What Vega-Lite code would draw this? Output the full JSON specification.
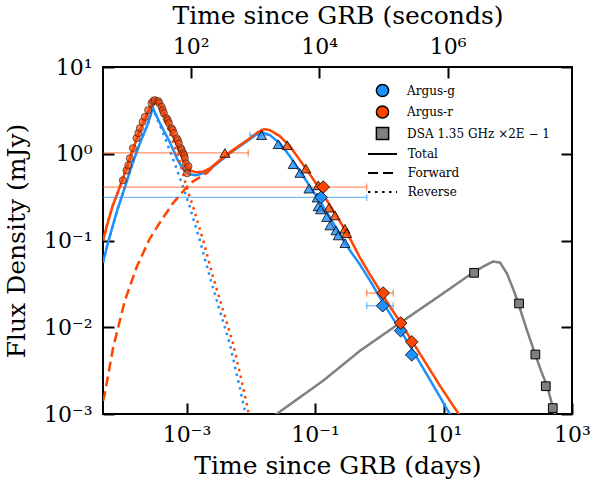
{
 "$schema": "https://vega.github.io/schema/vega-lite/v6.json",
 "autosize": {"type": "none"},
 "padding": {"left": 103, "top": 67, "right": 21, "bottom": 68},
 "width": 469,
 "height": 347,
 "config": {
  "view": {"stroke": "black", "strokeWidth": 2},
  "font": "DejaVu Serif",
  "axis": {"grid": false, "domain": false, "tickColor": "black", "tickWidth": 2, "tickSize": -11,
   "labelFont": "DejaVu Serif", "labelFontSize": 22, "labelColor": "black",
   "titleFont": "DejaVu Serif", "titleFontSize": 25, "titleFontWeight": "normal", "titleColor": "black",
   "labelFlush": false, "labelOverlap": false, "titlePadding": 9},
  "legend": {"labelFont": "DejaVu Serif", "labelFontSize": 12, "labelColor": "black", "padding": 0}
 },
 "datasets": {
  "model": [
   {"b":"g","c":"Total","t":5e-5,"f":0.0557},{"b":"g","c":"Total","t":5.94e-5,"f":0.0923},{"b":"g","c":"Total","t":7.11e-5,"f":0.149},{"b":"g","c":"Total","t":8.51e-5,"f":0.2344},{"b":"g","c":"Total","t":1.094e-4,"f":0.41},{"b":"g","c":"Total","t":1.406e-4,"f":0.736},{"b":"g","c":"Total","t":1.875e-4,"f":1.321},{"b":"g","c":"Total","t":2.49e-4,"f":2.193},{"b":"g","c":"Total","t":2.985e-4,"f":3.357},{"b":"g","c":"Total","t":3.84e-4,"f":2.254},{"b":"g","c":"Total","t":5.5e-4,"f":1.358},{"b":"g","c":"Total","t":7.29e-4,"f":0.841},{"b":"g","c":"Total","t":9.08e-4,"f":0.644},{"b":"g","c":"Total","t":1.125e-3,"f":0.579},{"b":"g","c":"Total","t":1.396e-3,"f":0.564},{"b":"g","c":"Total","t":1.795e-3,"f":0.596},{"b":"g","c":"Total","t":2.307e-3,"f":0.662},{"b":"g","c":"Total","t":3.289e-3,"f":0.818},{"b":"g","c":"Total","t":4.721e-3,"f":1.014},{"b":"g","c":"Total","t":6.76e-3,"f":1.222},{"b":"g","c":"Total","t":9.68e-3,"f":1.472},{"b":"g","c":"Total","t":1.245e-2,"f":1.679},{"b":"g","c":"Total","t":1.489e-2,"f":1.774},{"b":"g","c":"Total","t":1.982e-2,"f":1.637},{"b":"g","c":"Total","t":2.838e-2,"f":1.321},{"b":"g","c":"Total","t":4.064e-2,"f":0.935},{"b":"g","c":"Total","t":5.82e-2,"f":0.628},{"b":"g","c":"Total","t":8.32e-2,"f":0.421},{"b":"g","c":"Total","t":0.1191,"f":0.2825},{"b":"g","c":"Total","t":0.1706,"f":0.1845},{"b":"g","c":"Total","t":0.2443,"f":0.1173},{"b":"g","c":"Total","t":0.35,"f":0.0766},{"b":"g","c":"Total","t":0.5,"f":0.0528},{"b":"g","c":"Total","t":0.716,"f":0.0345},{"b":"g","c":"Total","t":1.026,"f":0.02193},{"b":"g","c":"Total","t":1.469,"f":0.01432},{"b":"g","c":"Total","t":2.099,"f":0.00935},{"b":"g","c":"Total","t":3.006,"f":0.00611},{"b":"g","c":"Total","t":4.305,"f":0.00389},{"b":"g","c":"Total","t":6.166,"f":0.00247},{"b":"g","c":"Total","t":8.81,"f":0.001574},{"b":"g","c":"Total","t":11.75,"f":0.001084},{"b":"g","c":"Total","t":13.56,"f":0.000923},
   {"b":"g","c":"Reverse","t":5e-5,"f":0.0557},{"b":"g","c":"Reverse","t":5.94e-5,"f":0.0923},{"b":"g","c":"Reverse","t":7.11e-5,"f":0.149},{"b":"g","c":"Reverse","t":8.51e-5,"f":0.2344},{"b":"g","c":"Reverse","t":1.094e-4,"f":0.41},{"b":"g","c":"Reverse","t":1.406e-4,"f":0.736},{"b":"g","c":"Reverse","t":1.875e-4,"f":1.321},{"b":"g","c":"Reverse","t":2.49e-4,"f":2.193},{"b":"g","c":"Reverse","t":2.985e-4,"f":3.357},{"b":"g","c":"Reverse","t":4.33e-4,"f":1.714},{"b":"g","c":"Reverse","t":6.56e-4,"f":0.771},{"b":"g","c":"Reverse","t":8.83e-4,"f":0.413},{"b":"g","c":"Reverse","t":1.125e-3,"f":0.242},{"b":"g","c":"Reverse","t":1.611e-3,"f":0.1},{"b":"g","c":"Reverse","t":2.307e-3,"f":0.0377},{"b":"g","c":"Reverse","t":3.289e-3,"f":0.01552},{"b":"g","c":"Reverse","t":4.721e-3,"f":0.0064},{"b":"g","c":"Reverse","t":6.37e-3,"f":0.00241},{"b":"g","c":"Reverse","t":8.09e-3,"f":0.001084},{"b":"g","c":"Reverse","t":8.69e-3,"f":0.000923},
   {"b":"r","c":"Total","t":5e-5,"f":0.1},{"b":"r","c":"Total","t":5.94e-5,"f":0.1614},{"b":"r","c":"Total","t":7.11e-5,"f":0.254},{"b":"r","c":"Total","t":8.51e-5,"f":0.359},{"b":"r","c":"Total","t":1.02e-4,"f":0.521},{"b":"r","c":"Total","t":1.31e-4,"f":0.887},{"b":"r","c":"Total","t":1.875e-4,"f":1.871},{"b":"r","c":"Total","t":2.68e-4,"f":3.357},{"b":"r","c":"Total","t":3.33e-4,"f":4.27},{"b":"r","c":"Total","t":4.12e-4,"f":3.357},{"b":"r","c":"Total","t":5.5e-4,"f":1.972},{"b":"r","c":"Total","t":7.29e-4,"f":1.189},{"b":"r","c":"Total","t":9.4e-4,"f":0.776},{"b":"r","c":"Total","t":1.125e-3,"f":0.644},{"b":"r","c":"Total","t":1.396e-3,"f":0.611},{"b":"r","c":"Total","t":1.795e-3,"f":0.619},{"b":"r","c":"Total","t":2.307e-3,"f":0.679},{"b":"r","c":"Total","t":3.289e-3,"f":0.841},{"b":"r","c":"Total","t":4.721e-3,"f":1.04},{"b":"r","c":"Total","t":6.76e-3,"f":1.253},{"b":"r","c":"Total","t":9.68e-3,"f":1.51},{"b":"r","c":"Total","t":1.291e-2,"f":1.774},{"b":"r","c":"Total","t":1.6e-2,"f":1.919},{"b":"r","c":"Total","t":1.982e-2,"f":1.871},{"b":"r","c":"Total","t":2.838e-2,"f":1.592},{"b":"r","c":"Total","t":4.064e-2,"f":1.222},{"b":"r","c":"Total","t":5.82e-2,"f":0.841},{"b":"r","c":"Total","t":8.32e-2,"f":0.579},{"b":"r","c":"Total","t":0.1191,"f":0.389},{"b":"r","c":"Total","t":0.1706,"f":0.254},{"b":"r","c":"Total","t":0.2443,"f":0.166},{"b":"r","c":"Total","t":0.35,"f":0.1054},{"b":"r","c":"Total","t":0.5,"f":0.0635},{"b":"r","c":"Total","t":0.716,"f":0.0405},{"b":"r","c":"Total","t":1.026,"f":0.02642},{"b":"r","c":"Total","t":1.469,"f":0.01726},{"b":"r","c":"Total","t":2.099,"f":0.01159},{"b":"r","c":"Total","t":3.006,"f":0.00757},{"b":"r","c":"Total","t":4.305,"f":0.00494},{"b":"r","c":"Total","t":6.166,"f":0.00323},{"b":"r","c":"Total","t":8.81,"f":0.00211},{"b":"r","c":"Total","t":12.62,"f":0.001413},{"b":"r","c":"Total","t":16.83,"f":0.001028},{"b":"r","c":"Total","t":19.4,"f":0.000875},
   {"b":"r","c":"Reverse","t":5e-5,"f":0.1},{"b":"r","c":"Reverse","t":5.94e-5,"f":0.1614},{"b":"r","c":"Reverse","t":7.11e-5,"f":0.254},{"b":"r","c":"Reverse","t":8.51e-5,"f":0.359},{"b":"r","c":"Reverse","t":1.02e-4,"f":0.521},{"b":"r","c":"Reverse","t":1.31e-4,"f":0.887},{"b":"r","c":"Reverse","t":1.875e-4,"f":1.871},{"b":"r","c":"Reverse","t":2.68e-4,"f":3.357},{"b":"r","c":"Reverse","t":3.33e-4,"f":4.27},{"b":"r","c":"Reverse","t":4.84e-4,"f":2.193},{"b":"r","c":"Reverse","t":7.29e-4,"f":0.987},{"b":"r","c":"Reverse","t":1.0e-3,"f":0.413},{"b":"r","c":"Reverse","t":1.268e-3,"f":0.242},{"b":"r","c":"Reverse","t":1.816e-3,"f":0.1},{"b":"r","c":"Reverse","t":2.594e-3,"f":0.0377},{"b":"r","c":"Reverse","t":3.715e-3,"f":0.01552},{"b":"r","c":"Reverse","t":5.32e-3,"f":0.0064},{"b":"r","c":"Reverse","t":7.19e-3,"f":0.00241},{"b":"r","c":"Reverse","t":9.12e-3,"f":0.001084},{"b":"r","c":"Reverse","t":9.68e-3,"f":0.000923},
   {"b":"r","c":"Forward","t":5e-5,"f":0.001413},{"b":"r","c":"Forward","t":5.33e-5,"f":0.0017},{"b":"r","c":"Forward","t":7.19e-5,"f":0.00584},{"b":"r","c":"Forward","t":1.094e-4,"f":0.02024},{"b":"r","c":"Forward","t":1.663e-4,"f":0.0491},{"b":"r","c":"Forward","t":2.68e-4,"f":0.1054},{"b":"r","c":"Forward","t":3.84e-4,"f":0.1614},{"b":"r","c":"Forward","t":6.12e-4,"f":0.268},{"b":"r","c":"Forward","t":1.125e-3,"f":0.456},{"b":"r","c":"Forward","t":2.07e-3,"f":0.6},{"b":"r","c":"Forward","t":3.289e-3,"f":0.841},{"b":"r","c":"Forward","t":4.721e-3,"f":1.04},{"b":"r","c":"Forward","t":6.76e-3,"f":1.253},
   {"b":"dsa","c":"Total","t":2.13e-2,"f":0.000923},{"b":"dsa","c":"Total","t":2.52e-2,"f":0.001},{"b":"dsa","c":"Total","t":0.1327,"f":0.00241},{"b":"dsa","c":"Total","t":0.5,"f":0.00535},{"b":"dsa","c":"Total","t":2.099,"f":0.0112},{"b":"dsa","c":"Total","t":8.81,"f":0.0232},{"b":"dsa","c":"Total","t":28.8,"f":0.0427},{"b":"dsa","c":"Total","t":44.3,"f":0.0514},{"b":"dsa","c":"Total","t":59.0,"f":0.0572},{"b":"dsa","c":"Total","t":75.9,"f":0.0557},{"b":"dsa","c":"Total","t":97.3,"f":0.0415},{"b":"dsa","c":"Total","t":120.8,"f":0.0279},{"b":"dsa","c":"Total","t":144.5,"f":0.0192},{"b":"dsa","c":"Total","t":200,"f":0.00912},{"b":"dsa","c":"Total","t":266,"f":0.00494},{"b":"dsa","c":"Total","t":330,"f":0.00314},{"b":"dsa","c":"Total","t":409,"f":0.00211},{"b":"dsa","c":"Total","t":508,"f":0.00117},{"b":"dsa","c":"Total","t":546,"f":0.000972}
  ],
  "obs": [
   {"s":"Argus-r","k":"circle","t":1.019e-4,"f":0.494},{"s":"Argus-r","k":"circle","t":1.161e-4,"f":0.644},{"s":"Argus-r","k":"circle","t":1.239e-4,"f":0.736},{"s":"Argus-r","k":"circle","t":1.309e-4,"f":0.887},{"s":"Argus-r","k":"circle","t":1.459e-4,"f":1.159},{"s":"Argus-r","k":"circle","t":1.663e-4,"f":1.51},{"s":"Argus-r","k":"circle","t":1.774e-4,"f":1.726},{"s":"Argus-r","k":"circle","t":1.875e-4,"f":1.972},{"s":"Argus-r","k":"circle","t":2.065e-4,"f":2.333},{"s":"Argus-r","k":"circle","t":2.239e-4,"f":2.661},{"s":"Argus-r","k":"circle","t":2.523e-4,"f":3.184},{"s":"Argus-r","k":"circle","t":2.851e-4,"f":3.837},{"s":"Argus-r","k":"circle","t":3.027e-4,"f":4.046},{"s":"Argus-r","k":"circle","t":3.206e-4,"f":4.15},{"s":"Argus-r","k":"circle","t":3.614e-4,"f":4.046},{"s":"Argus-r","k":"circle","t":3.758e-4,"f":3.837},{"s":"Argus-r","k":"circle","t":4.083e-4,"f":3.475},{"s":"Argus-r","k":"circle","t":4.256e-4,"f":3.184},{"s":"Argus-r","k":"circle","t":4.426e-4,"f":2.938},{"s":"Argus-r","k":"circle","t":4.875e-4,"f":2.57},{"s":"Argus-r","k":"circle","t":5.082e-4,"f":2.438},{"s":"Argus-r","k":"circle","t":5.297e-4,"f":2.254},{"s":"Argus-r","k":"circle","t":5.834e-4,"f":1.972},{"s":"Argus-r","k":"circle","t":6.081e-4,"f":1.871},{"s":"Argus-r","k":"circle","t":6.339e-4,"f":1.726},{"s":"Argus-r","k":"circle","t":6.982e-4,"f":1.51},{"s":"Argus-r","k":"circle","t":7.311e-4,"f":1.432},{"s":"Argus-r","k":"circle","t":7.586e-4,"f":1.321},{"s":"Argus-r","k":"circle","t":8.147e-4,"f":1.159},{"s":"Argus-r","k":"circle","t":8.414e-4,"f":1.096},{"s":"Argus-r","k":"circle","t":8.851e-4,"f":1.014},{"s":"Argus-r","k":"circle","t":9.204e-4,"f":0.962},{"s":"Argus-r","k":"circle","t":9.397e-4,"f":0.887},{"s":"Argus-r","k":"circle","t":9.75e-4,"f":0.776},{"s":"Argus-r","k":"circle","t":1.021e-3,"f":0.679},{"s":"Argus-r","k":"circle","t":1.069e-3,"f":0.716},{"s":"Argus-r","k":"circle","t":1.021e-3,"f":0.596},
   {"s":"DSA 1.35 GHz ×2E − 1","k":"square","t":29.9,"f":0.0424},{"s":"DSA 1.35 GHz ×2E − 1","k":"square","t":150,"f":0.0188},{"s":"DSA 1.35 GHz ×2E − 1","k":"square","t":269,"f":0.00485},{"s":"DSA 1.35 GHz ×2E − 1","k":"square","t":391,"f":0.00209},{"s":"DSA 1.35 GHz ×2E − 1","k":"square","t":502,"f":0.00117},
   {"s":"Argus-g","k":"triangle","t":1.472e-2,"f":1.636},{"s":"Argus-g","k":"triangle","t":2.673e-2,"f":1.288},{"s":"Argus-g","k":"triangle","t":4.571e-2,"f":0.757},{"s":"Argus-g","k":"triangle","t":5.821e-2,"f":0.6},{"s":"Argus-g","k":"triangle","t":8.035e-2,"f":0.396},{"s":"Argus-g","k":"triangle","t":0.1081,"f":0.312},{"s":"Argus-g","k":"triangle","t":0.1122,"f":0.247},{"s":"Argus-g","k":"triangle","t":0.1222,"f":0.228},{"s":"Argus-g","k":"triangle","t":0.1517,"f":0.186},{"s":"Argus-g","k":"triangle","t":0.1706,"f":0.149},{"s":"Argus-g","k":"triangle","t":0.2118,"f":0.1305},{"s":"Argus-g","k":"triangle","t":0.2296,"f":0.1143},{"s":"Argus-g","k":"triangle","t":0.2924,"f":0.0931},
   {"s":"Argus-r","k":"triangle","t":3.951e-3,"f":1.021},{"s":"Argus-r","k":"triangle","t":3.69e-2,"f":1.254},{"s":"Argus-r","k":"triangle","t":7.211e-2,"f":0.674},{"s":"Argus-r","k":"triangle","t":0.1122,"f":0.4325},{"s":"Argus-r","k":"triangle","t":0.1648,"f":0.2388},{"s":"Argus-r","k":"triangle","t":0.2042,"f":0.1945},{"s":"Argus-r","k":"triangle","t":0.2924,"f":0.1365},{"s":"Argus-r","k":"triangle","t":0.3105,"f":0.1214},
   {"s":"Argus-g","k":"diamond","t":0.124,"f":0.314},{"s":"Argus-g","k":"diamond","t":1.13,"f":0.0177},{"s":"Argus-g","k":"diamond","t":2.15,"f":0.00912},{"s":"Argus-g","k":"diamond","t":3.2,"f":0.00481},
   {"s":"Argus-r","k":"diamond","t":0.134,"f":0.413},{"s":"Argus-r","k":"diamond","t":1.15,"f":0.0248},{"s":"Argus-r","k":"diamond","t":2.15,"f":0.0112},{"s":"Argus-r","k":"diamond","t":3.2,"f":0.00679}
  ],
  "err": [
   {"b":"r","t":1e-5,"thi":0.637,"f":0.413},{"b":"r","t":1e-5,"thi":9.12e-3,"f":1.021},{"b":"r","t":0.637,"thi":1.65,"f":0.0248},
   {"b":"g","t":1e-5,"thi":0.637,"f":0.314},{"b":"g","t":0.637,"thi":1.65,"f":0.0177},{"b":"g","t":9.68e-3,"thi":2.0e-2,"f":1.636}
  ],
  "cap": [
   {"b":"r","t":0.637,"f":0.413},{"b":"r","t":9.12e-3,"f":1.021},{"b":"r","t":0.637,"f":0.0248},{"b":"r","t":1.65,"f":0.0248},
   {"b":"g","t":0.637,"f":0.314},{"b":"g","t":0.637,"f":0.0177},{"b":"g","t":1.65,"f":0.0177},{"b":"g","t":9.68e-3,"f":1.636}
  ]
 },
 "resolve": {"scale": {"x": "independent"}, "axis": {"x": "independent", "y": "independent"}},
 "layer": [
  {
   "encoding": {
    "x": {"field": "t", "type": "quantitative", "scale": {"type": "log", "domain": [5e-5, 1000], "nice": false},
     "axis": {"orient": "bottom", "values": [0.001, 0.1, 10, 1000], "title": "Time since GRB (days)", "labelPadding": 21.5, "titlePadding": 8,
      "labelExpr": "datum.value < 0.005 ? '10⁻³' : datum.value < 0.5 ? '10⁻¹' : datum.value < 50 ? '10¹' : '10³'"}},
    "y": {"field": "f", "type": "quantitative", "scale": {"type": "log", "domain": [0.001, 10], "nice": false},
     "axis": {"orient": "left", "values": [0.001, 0.01, 0.1, 1, 10], "title": "Flux Density (mJy)", "labelPadding": 22, "titlePadding": 14,
      "labelExpr": "datum.value < 0.005 ? '10⁻³' : datum.value < 0.05 ? '10⁻²' : datum.value < 0.5 ? '10⁻¹' : datum.value < 5 ? '10⁰' : '10¹'"}}
   },
   "layer": [
    {
     "data": {"name": "model"},
     "transform": [{"filter": "datum.b == 'g'"}],
     "mark": {"type": "line", "color": "#1E90FF", "strokeWidth": 2.5, "clip": true, "strokeCap": "butt"},
     "encoding": {
      "strokeDash": {"field": "c", "type": "nominal",
       "scale": {"domain": ["Total", "Forward", "Reverse"], "range": [[1, 0], [10, 5], [2.5, 4.5]]},
       "legend": {"title": null, "orient": "none", "legendX": 271, "legendY": 78.5, "symbolType": "M-2,0H2", "symbolSize": 210,
        "symbolStrokeWidth": 2, "symbolStrokeColor": "black", "labelOffset": 16.8, "rowPadding": 4,
        "encode": {"symbols": {"update": {"stroke": {"value": "black"}, "fill": {"value": "transparent"}, "strokeWidth": {"value": 2}, "opacity": {"value": 1}}}}}}
     }
    },
    {
     "data": {"name": "model"},
     "transform": [{"filter": "datum.b == 'r'"}],
     "mark": {"type": "line", "color": "#FF4500", "strokeWidth": 2.5, "clip": true, "strokeCap": "butt"},
     "encoding": {
      "strokeDash": {"field": "c", "type": "nominal",
       "scale": {"domain": ["Total", "Forward", "Reverse"], "range": [[1, 0], [10, 5], [2.5, 4.5]]},
       "legend": {"title": null, "orient": "none", "legendX": 271, "legendY": 78.5, "symbolType": "M-2,0H2", "symbolSize": 210,
        "symbolStrokeWidth": 2, "symbolStrokeColor": "black", "labelOffset": 16.8, "rowPadding": 4,
        "encode": {"symbols": {"update": {"stroke": {"value": "black"}, "fill": {"value": "transparent"}, "strokeWidth": {"value": 2}, "opacity": {"value": 1}}}}}}
     }
    },
    {
     "data": {"name": "model"},
     "transform": [{"filter": "datum.b == 'dsa'"}],
     "mark": {"type": "line", "color": "#808080", "strokeWidth": 2.5, "clip": true, "strokeCap": "butt"},
     "encoding": {
      "strokeDash": {"field": "c", "type": "nominal",
       "scale": {"domain": ["Total", "Forward", "Reverse"], "range": [[1, 0], [10, 5], [2.5, 4.5]]},
       "legend": {"title": null, "orient": "none", "legendX": 271, "legendY": 78.5, "symbolType": "M-2,0H2", "symbolSize": 210,
        "symbolStrokeWidth": 2, "symbolStrokeColor": "black", "labelOffset": 16.8, "rowPadding": 4,
        "encode": {"symbols": {"update": {"stroke": {"value": "black"}, "fill": {"value": "transparent"}, "strokeWidth": {"value": 2}, "opacity": {"value": 1}}}}}}
     }
    },
    {
     "data": {"name": "err"},
     "transform": [{"filter": "datum.b == 'g'"}],
     "mark": {"type": "rule", "color": "#1E90FF", "opacity": 0.6, "strokeWidth": 1.3, "clip": true},
     "encoding": {"x2": {"field": "thi"}}
    },
    {
     "data": {"name": "err"},
     "transform": [{"filter": "datum.b == 'r'"}],
     "mark": {"type": "rule", "color": "#FF4500", "opacity": 0.6, "strokeWidth": 1.3, "clip": true},
     "encoding": {"x2": {"field": "thi"}}
    },
    {
     "data": {"name": "cap"},
     "transform": [{"filter": "datum.b == 'g'"}],
     "mark": {"type": "tick", "orient": "vertical", "color": "#1E90FF", "opacity": 0.6, "size": 7, "thickness": 1.3, "clip": true}
    },
    {
     "data": {"name": "cap"},
     "transform": [{"filter": "datum.b == 'r'"}],
     "mark": {"type": "tick", "orient": "vertical", "color": "#FF4500", "opacity": 0.6, "size": 7, "thickness": 1.3, "clip": true}
    },
    {
     "data": {"name": "obs"},
     "transform": [{"filter": "datum.k == 'square'"}],
     "mark": {"type": "point", "filled": true, "size": 76, "stroke": "black", "strokeWidth": 1, "fillOpacity": 1, "clip": true},
     "encoding": {
      "color": {"field": "s", "type": "nominal",
       "scale": {"domain": ["Argus-g", "Argus-r", "DSA 1.35 GHz ×2E − 1"], "range": ["#1E90FF", "#FF4500", "#808080"]},
       "legend": {"title": null, "orient": "none", "legendX": 272.5, "legendY": 16.5, "symbolSize": 150, "labelOffset": 17.6, "rowPadding": 1.5,
        "encode": {"symbols": {"update": {"stroke": {"value": "black"}, "strokeWidth": {"value": 1}, "fillOpacity": {"value": 1}, "opacity": {"value": 1}, "size": {"value": 150}}}}}},
      "shape": {"field": "s", "type": "nominal",
       "scale": {"domain": ["Argus-g", "Argus-r", "DSA 1.35 GHz ×2E − 1"], "range": ["circle", "circle", "square"]}}
     }
    },
    {
     "data": {"name": "obs"},
     "transform": [{"filter": "datum.k == 'circle'"}],
     "mark": {"type": "point", "filled": true, "size": 52, "stroke": "#222222", "strokeWidth": 0.9, "strokeOpacity": 0.7, "fillOpacity": 0.68, "clip": true},
     "encoding": {
      "color": {"field": "s", "type": "nominal",
       "scale": {"domain": ["Argus-g", "Argus-r", "DSA 1.35 GHz ×2E − 1"], "range": ["#1E90FF", "#FF4500", "#808080"]},
       "legend": {"title": null, "orient": "none", "legendX": 272.5, "legendY": 16.5, "symbolSize": 150, "labelOffset": 17.6, "rowPadding": 1.5,
        "encode": {"symbols": {"update": {"stroke": {"value": "black"}, "strokeWidth": {"value": 1}, "fillOpacity": {"value": 1}, "opacity": {"value": 1}, "size": {"value": 150}}}}}},
      "shape": {"field": "s", "type": "nominal",
       "scale": {"domain": ["Argus-g", "Argus-r", "DSA 1.35 GHz ×2E − 1"], "range": ["circle", "circle", "square"]}}
     }
    },
    {
     "data": {"name": "obs"},
     "transform": [{"filter": "datum.k == 'triangle' && datum.s == 'Argus-g'"}],
     "mark": {"type": "point", "shape": "triangle-up", "filled": true, "size": 100, "color": "#1E90FF", "stroke": "black", "strokeWidth": 0.8, "fillOpacity": 0.8, "clip": true}
    },
    {
     "data": {"name": "obs"},
     "transform": [{"filter": "datum.k == 'triangle' && datum.s == 'Argus-r'"}],
     "mark": {"type": "point", "shape": "triangle-up", "filled": true, "size": 100, "color": "#FF4500", "stroke": "black", "strokeWidth": 0.8, "fillOpacity": 0.8, "clip": true}
    },
    {
     "data": {"name": "obs"},
     "transform": [{"filter": "datum.k == 'diamond' && datum.s == 'Argus-g'"}],
     "mark": {"type": "point", "shape": "diamond", "filled": true, "size": 160, "color": "#1E90FF", "stroke": "black", "strokeWidth": 0.8, "fillOpacity": 1, "clip": true}
    },
    {
     "data": {"name": "obs"},
     "transform": [{"filter": "datum.k == 'diamond' && datum.s == 'Argus-r'"}],
     "mark": {"type": "point", "shape": "diamond", "filled": true, "size": 160, "color": "#FF4500", "stroke": "black", "strokeWidth": 0.8, "fillOpacity": 1, "clip": true}
    }
   ]
  },
  {
   "data": {"values": [{"sec": 4.32, "f": 1}]},
   "mark": {"type": "point", "opacity": 0},
   "encoding": {
    "x": {"field": "sec", "type": "quantitative", "scale": {"type": "log", "domain": [4.32, 86400000], "nice": false},
     "axis": {"orient": "top", "values": [100, 10000, 1000000], "title": "Time since GRB (seconds)", "labelPadding": 20, "titlePadding": 7,
      "labelExpr": "datum.value < 1000 ? '10²' : datum.value < 100000 ? '10⁴' : '10⁶'"}},
    "y": {"field": "f", "type": "quantitative", "scale": {"type": "log", "domain": [0.001, 10], "nice": false},
     "axis": {"orient": "right", "values": [0.001, 0.01, 0.1, 1, 10], "labels": false, "title": null}}
   }
  }
 ]
}
